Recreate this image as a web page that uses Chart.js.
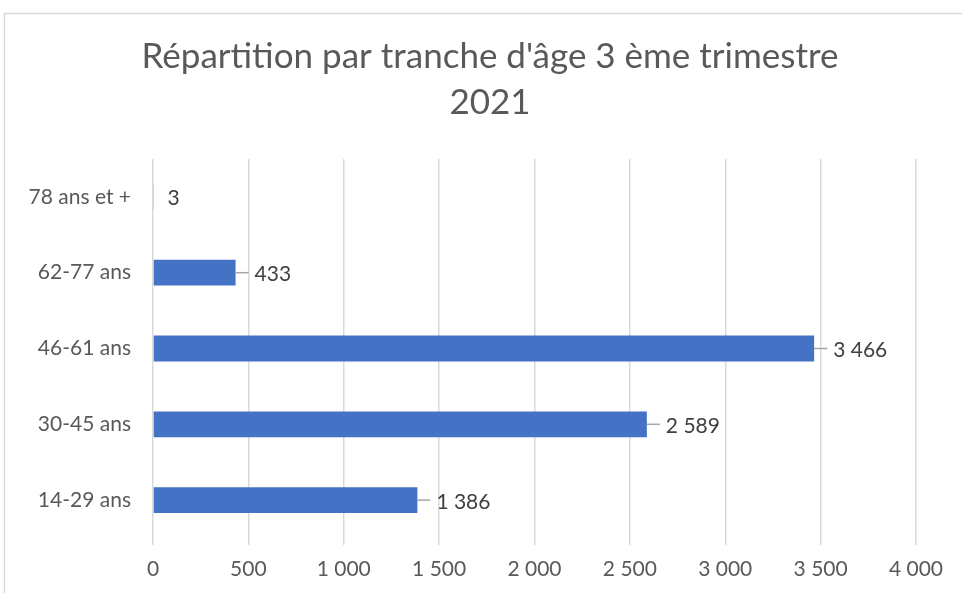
<!DOCTYPE html>
<html>
<head>
<meta charset="utf-8">
<script src="https://cdn.jsdelivr.net/npm/chart.js@4"></script>
<style>
  html, body { margin: 0; padding: 0; background: #fff; }
  #wrap { width: 962px; height: 593px; }
</style>
</head>
<body>
<div id="wrap"><canvas id="myChart" width="962" height="593"></canvas></div>
<script>
let labels = ['78 ans et +', '62-77 ans', '46-61 ans', '30-45 ans', '14-29 ans'];
let values = [3, 433, 3466, 2589, 1386];
let titleLines = ["Répartition par tranche d'âge 3 ème trimestre", '2021'];
let barColor = '#4472C4';
let fontName = 'Lato, "Open Sans", sans-serif';

function fmt(v) {
    return String(Math.round(v)).replace(/\B(?=(\d{3})+(?!\d))/g, ' ');
}

// white background, frame and the two-line title
let framePlugin = {
    id: 'frame',
    beforeDraw(chart) {
        let c = chart.ctx;
        c.save();
        c.fillStyle = '#fff';
        c.fillRect(0, 0, chart.width, chart.height);
        c.strokeStyle = '#d9d9d9';
        c.lineWidth = 1.5;
        c.beginPath();
        c.moveTo(4.5, chart.height);
        c.lineTo(4.5, 13.5);
        c.lineTo(chart.width, 13.5);
        c.stroke();

        c.fillStyle = '#595959';
        c.font = '35px ' + fontName;
        c.textAlign = 'center';
        c.textBaseline = 'middle';
        titleLines.forEach((t, i) => c.fillText(t, 490, 57 + i * 46));
        c.restore();
    }
};

// value labels with small leader lines
let valueLabels = {
    id: 'valueLabels',
    afterDatasetsDraw(chart) {
        let c = chart.ctx;
        let meta = chart.getDatasetMeta(0);
        c.save();
        c.font = '21px ' + fontName;
        c.fillStyle = '#404040';
        c.textBaseline = 'middle';
        c.textAlign = 'left';
        meta.data.forEach((bar, i) => {
            let end = bar.x;
            let y = bar.y;
            let w = bar.x - bar.base;
            if (w > 6) {
                c.strokeStyle = '#a6a6a6';
                c.lineWidth = 1.5;
                c.beginPath();
                c.moveTo(end, y);
                c.lineTo(end + 13, y);
                c.stroke();
                c.fillText(fmt(values[i]), end + 19, y + 2);
            } else {
                c.fillText(fmt(values[i]), end + 14, y + 1);
            }
        });
        c.restore();
    }
};

let ctx = document.getElementById('myChart').getContext('2d');
let myChart = new Chart(ctx, {
    type: 'bar',
    data: {
        labels: labels,
        datasets: [{
            data: values,
            backgroundColor: barColor,
            barPercentage: 0.34,
            categoryPercentage: 1
        }]
    },
    options: {
        indexAxis: 'y',
        responsive: false,
        animation: false,
        layout: { padding: { left: 0, right: 46, top: 159, bottom: 0 } },
        plugins: {
            legend: { display: false },
            tooltip: { enabled: false },
            title: { display: false }
        },
        scales: {
            x: {
                min: 0,
                max: 4000,
                afterFit(scale) { scale.height = 55; },
                ticks: {
                    stepSize: 500,
                    color: '#595959',
                    font: { family: fontName, size: 21 },
                    padding: 12,
                    maxRotation: 0,
                    callback: (v) => fmt(v)
                },
                grid: { color: '#d9d9d9', lineWidth: 1.5, tickLength: 7 },
                border: { display: false }
            },
            y: {
                afterFit(scale) { scale.width = 153; },
                ticks: {
                    color: '#595959',
                    font: { family: fontName, size: 21 },
                    padding: 22
                },
                grid: { display: false, drawTicks: false },
                border: { display: false }
            }
        }
    },
    plugins: [framePlugin, valueLabels]
});
</script>
</body>
</html>
